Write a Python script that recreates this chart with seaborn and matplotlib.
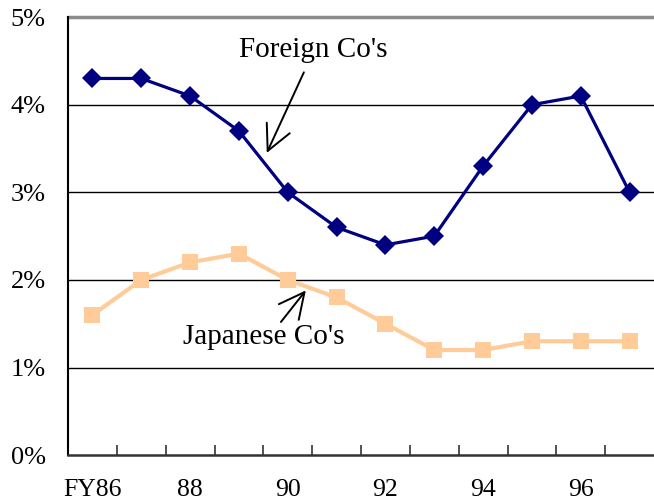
import matplotlib
matplotlib.use("Agg")
import matplotlib.pyplot as plt
import seaborn as sns
import pandas as pd
from matplotlib.ticker import FixedLocator

years = ["FY86", "87", "88", "89", "90", "91", "92", "93", "94", "95", "96", "97"]
foreign = [4.3, 4.3, 4.1, 3.7, 3.0, 2.6, 2.4, 2.5, 3.3, 4.0, 4.1, 3.0]
japanese = [1.6, 2.0, 2.2, 2.3, 2.0, 1.8, 1.5, 1.2, 1.2, 1.3, 1.3, 1.3]
y_ticks = [0, 1, 2, 3, 4, 5]
y_labels = ["0%", "1%", "2%", "3%", "4%", "5%"]
x_labels = ["FY86", "88", "90", "92", "94", "96"]

sns.set_theme(style="white")
plt.rcParams["font.family"] = ["Liberation Serif", "DejaVu Serif"]
plt.rcParams["text.color"] = "black"

df = pd.DataFrame({"idx": range(len(years)), "foreign": foreign, "japanese": japanese})

fig = plt.figure(figsize=(6.54, 5.04), dpi=100)
ax = fig.add_axes([0.104, 0.097, 0.896, 0.869])

for v in y_ticks[1:-1]:
    ax.axhline(v, color="black", lw=1.0, zorder=1)
ax.axhline(5, color="#8c8c8c", lw=2.5, zorder=1, clip_on=False)

sns.lineplot(data=df, x="idx", y="japanese", ax=ax, color="#FFCC99", lw=3,
             marker="s", markersize=11.5, markeredgewidth=0, zorder=3)
sns.lineplot(data=df, x="idx", y="foreign", ax=ax, color="#000080", lw=2.3,
             marker="D", markersize=10.5, markeredgewidth=0, zorder=4)

ax.set_xlim(-0.5, len(years) - 0.5)
ax.set_ylim(0, 5)
ax.set_xlabel("")
ax.set_ylabel("")

ax.set_yticks(y_ticks)
ax.set_yticklabels(y_labels, fontsize=19)
ax.set_xticks([i for i in range(0, len(years), 2)])
ax.set_xticklabels(x_labels, fontsize=18.5)
ax.tick_params(axis="x", which="major", length=0, pad=17, labelcolor="black")
ax.tick_params(axis="y", which="major", length=0, pad=16, labelcolor="black")
ax.xaxis.set_minor_locator(FixedLocator([i + 0.5 for i in range(len(years) - 1)]))
ax.tick_params(axis="x", which="minor", direction="in", length=7, width=1.2,
               color="#333333", bottom=True)

for s in ["top", "right"]:
    ax.spines[s].set_visible(False)
ax.spines["left"].set_color("black")
ax.spines["left"].set_linewidth(1.5)
ax.spines["bottom"].set_color("#333333")
ax.spines["bottom"].set_linewidth(1.8)

ax.annotate("", xy=(3.57, 3.45), xytext=(4.33, 4.37),
            arrowprops=dict(arrowstyle="->,head_length=0.7,head_width=0.35",
                            color="black", lw=1.4, mutation_scale=26,
                            shrinkA=0, shrinkB=0))
ax.text(4.53, 4.63, "Foreign Co's", fontsize=21, ha="center", va="center")

ax.annotate("", xy=(4.37, 1.88), xytext=(3.86, 1.52),
            arrowprops=dict(arrowstyle="->,head_length=0.7,head_width=0.35",
                            color="black", lw=1.4, mutation_scale=26,
                            shrinkA=0, shrinkB=0))
ax.text(3.51, 1.35, "Japanese Co's", fontsize=21, ha="center", va="center")

fig.savefig("out.png", dpi=100)
